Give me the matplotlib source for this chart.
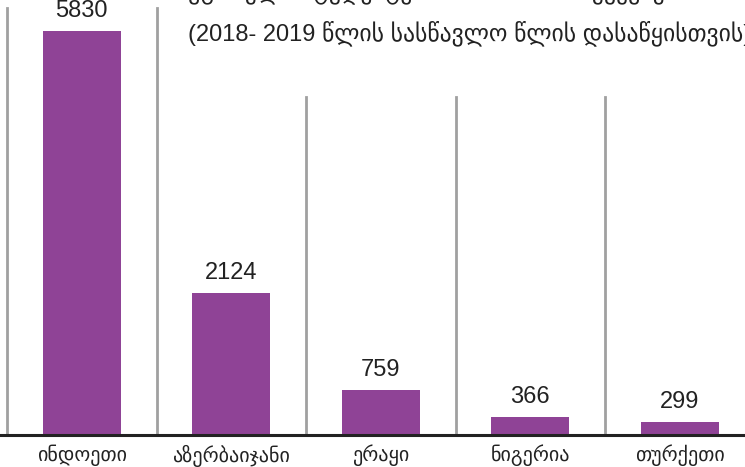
import matplotlib.pyplot as plt

# ---------------------------
# DATA
# ---------------------------

QUEYNEBI = ["ინდოეთი", "აზერბაიჯანი", "ერაყი", "ნიგერია", "თურქეთი"]
STUDENTEBI = [5830, 2124, 759, 366, 299]

SATAURI_1 = "უცხოელი სტუდენტები წარმოშობის ქვეყნების მიხედვით"
SATAURI_2 = "(2018- 2019 წლის სასწავლო წლის დასაწყისთვის)"

# ---------------------------
# STYLE
# ---------------------------

plt.rcParams["font.family"] = ["Liberation Sans", "DejaVu Sans"]
FERI = "#8F4396"
XAZI = "#A0A0A0"

fig = plt.figure(figsize=(7.45, 4.67), dpi=100)
ax = fig.add_axes([0, 32 / 467, 1, 435 / 467])

x = list(range(len(QUEYNEBI)))
ax.bar(x, STUDENTEBI, width=0.52, color=FERI, zorder=2)

for xi, v in zip(x, STUDENTEBI):
    ax.annotate(str(v), (xi, v), xytext=(0, 6.5), textcoords="offset points",
                ha="center", va="bottom", fontsize=17, color="#222222")

ax.set_xlim(-0.547, 4.436)
# the original axis starts a little above zero (bars are cut at the base line)
ax.set_ylim(116, 6269)

# vertical separators
for i, sep in enumerate([-0.5, 0.5, 1.5, 2.5, 3.5]):
    top = 0.982 if i < 2 else 0.777
    ax.axvline(sep, ymin=0, ymax=top, color=XAZI, lw=2, zorder=1)

ax.set_xticks(x)
ax.set_xticklabels(QUEYNEBI, fontsize=14.5, color="#222222")
ax.tick_params(axis="x", length=0, pad=7)
ax.set_yticks([])
for s in ["top", "left", "right"]:
    ax.spines[s].set_visible(False)
ax.spines["bottom"].set_color("#222222")
ax.spines["bottom"].set_linewidth(2.2)
ax.spines["bottom"].set_zorder(3)

fig.text(188 / 745, 1 + 9 / 467, SATAURI_1, fontsize=17, color="#222222",
         ha="left", va="center")
fig.text(188 / 745, 1 - 33 / 467, SATAURI_2, fontsize=17, color="#222222",
         ha="left", va="center")

fig.savefig("out.png", dpi=100)
